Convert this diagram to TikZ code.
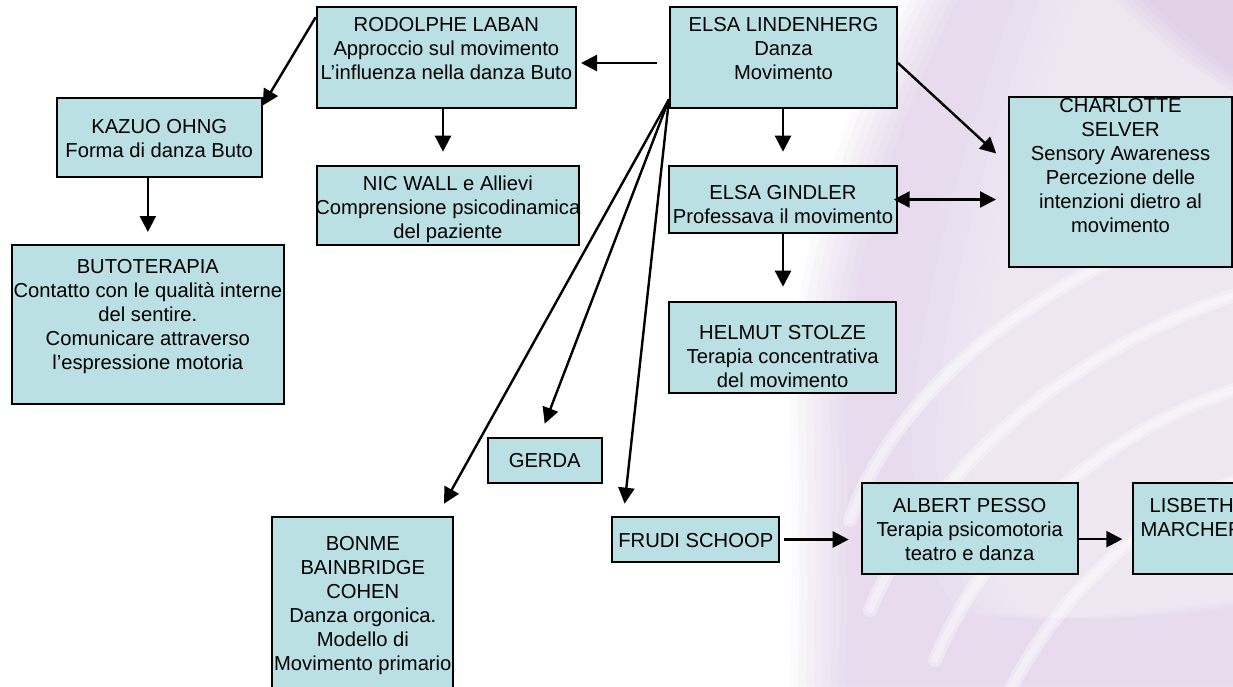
\documentclass[tikz,border=0pt]{standalone}
\usepackage{fontspec}
\setmainfont{Liberation Sans}
\usetikzlibrary{arrows.meta}

\definecolor{cardfill}{RGB}{187,224,227}
\definecolor{lav}{RGB}{196,160,212}

\tikzset{
  cardbox/.style={rectangle, draw=black, line width=2pt, fill=cardfill, inner sep=0pt},
  cardtext/.style={align=center, inner sep=0pt, font=\fontsize{20.2}{24}\selectfont},
  tip/.tip={Triangle[length=16pt,width=16pt]},
  arr/.style={line width=2.4pt, -tip},
  biarr/.style={line width=2.4pt, tip-tip},
  streak/.style={white, line cap=round, opacity=0.35},
}

% box: name, left, top, right, bottom, cap top of first line, text
\newcommand\placecard[7]{%
  \node[cardbox, minimum width={(#4-#2)*1pt}, minimum height={(#5-#3)*1pt}]
    (#1) at ({(#2+#4)/2},{(#3+#5)/2}) {};
  \node[cardtext, anchor=north] (#1t) at (#1.center |- 0,#6) {#7};
}

\begin{document}
\begin{tikzpicture}[x=1pt,y=-1pt]
\useasboundingbox (0,0) rectangle (1233,686);
\clip (0,0) rectangle (1233,686);
\fill[white] (0,0) rectangle (1233,686);

% ---- lavender swirl in the background (soft edges by stacking) ----
\foreach \d in {0,8,...,56}{
  \begin{scope}[xshift=\d pt]
    \fill[lav, opacity=0.05]
      (905,-5) .. controls (840,120) and (785,280) .. (790,420)
      .. controls (793,560) and (790,640) .. (790,700)
      -- (1300,700) -- (1300,-5) -- cycle;
  \end{scope}
}
\foreach \d in {0,12,...,72}{
  \begin{scope}[xshift=\d pt]
    \fill[white, opacity=0.07]
      (1005,-5) .. controls (960,120) and (905,300) .. (900,430)
      .. controls (898,520) and (915,580) .. (950,612)
      .. controls (1050,628) and (1150,610) .. (1300,590)
      -- (1300,-5) -- cycle;
  \end{scope}
}
\foreach \d in {0,8,...,32}{
  \begin{scope}[xshift=\d pt]
    \fill[lav, opacity=0.06]
      (1110,-5) .. controls (1160,40) and (1200,85) .. (1300,120)
      -- (1300,-5) -- cycle;
  \end{scope}
}
\foreach \w in {14,7}{
  \draw[streak, line width=\w pt] (870,610) .. controls (925,480) and (1060,350) .. (1250,290);
  \draw[streak, line width=\w pt] (935,660) .. controls (990,530) and (1110,425) .. (1250,385);
  \draw[streak, line width=\w pt] (1010,690) .. controls (1065,585) and (1150,510) .. (1250,475);
  \draw[streak, line width=\w pt] (850,520) .. controls (895,390) and (1040,270) .. (1250,205);
}

% ---- boxes ----
\placecard{laban}{316.7}{6.7}{576}{108.3}{16.7}
  {RODOLPHE LABAN\\Approccio sul movimento\\L’influenza nella danza Buto}
\placecard{elsaL}{670}{6.7}{897}{108.3}{16.7}
  {ELSA LINDENHERG\\Danza\\Movimento}
\placecard{kazuo}{56.7}{97.5}{261.7}{177}{119.5}
  {KAZUO OHNG\\Forma di danza Buto}
\placecard{nic}{316.7}{165.7}{579}{245}{175.5}
  {NIC WALL e Allievi\\Comprensione psicodinamica\\del paziente}
\placecard{buto}{11.7}{245}{284}{403.5}{259}
  {BUTOTERAPIA\\Contatto con le qualità interne\\del sentire.\\Comunicare attraverso\\l’espressione motoria}
\placecard{gindler}{669.3}{165.7}{896.7}{233.3}{185}
  {ELSA GINDLER\\Professava il movimento}
\placecard{selver}{1009}{97.3}{1232}{267.3}{98.5}
  {CHARLOTTE\\SELVER\\Sensory Awareness\\Percezione delle\\intenzioni dietro al\\movimento}
\placecard{stolze}{669.3}{301.7}{896}{392.7}{325.5}
  {HELMUT STOLZE\\Terapia concentrativa\\del movimento}
\placecard{gerda}{487.7}{437.7}{601.7}{483.3}{453}
  {GERDA}
\placecard{schoop}{612.3}{516.7}{779.3}{562.3}{533}
  {FRUDI SCHOOP}
\placecard{cohen}{272.3}{516.7}{453.3}{720}{536}
  {BONME\\BAINBRIDGE\\COHEN\\Danza orgonica.\\Modello di\\Movimento primario}
\placecard{pesso}{861.7}{483.3}{1077.7}{574}{498}
  {ALBERT PESSO\\Terapia psicomotoria\\teatro e danza}
\placecard{marcher}{1133.3}{483.3}{1250}{574}{498.5}
  {LISBETH\\MARCHER}

% ---- connectors ----
\draw[arr, shorten <=12pt, shorten >=4pt]
  ([yshift=-5.5pt]elsaL.west) -- ([yshift=-5.5pt]laban.east);
\draw[arr] ([yshift=-11.5pt]laban.north west) -- ([yshift=-9pt]kazuo.north east);
\draw[arr, shorten >=13pt] (laban.south -| 443,0) -- (nic.north -| 443,0);
\draw[arr, shorten >=12pt] (kazuo.south -| buto.north) -- (buto.north);
\draw[arr, shorten >=13pt] (elsaL.south -| gindler.north) -- (gindler.north);
\draw[arr, shorten >=14pt] (gindler.south) -- (gindler.south |- stolze.north);
\draw[arr, shorten >=16pt] ([yshift=-5.5pt]elsaL.east) -- ([yshift=18pt]selver.west);
\draw[biarr, shorten <=-4pt, shorten >=12pt] (gindler.east) -- (gindler.east -| selver.west);
\draw[arr, shorten >=13.7pt] ([yshift=10pt]elsaL.south west) -- ([xshift=-17pt]cohen.north east);
\draw[arr, shorten >=13.9pt] ([yshift=10pt]elsaL.south west) -- ([xshift=-5pt]gerda.north);
\draw[arr, shorten >=12.1pt] ([yshift=10pt]elsaL.south west) -- ([xshift=12pt]schoop.north west);
\draw[arr, shorten <=4pt, shorten >=12pt] (schoop.east) -- (schoop.east -| pesso.west);
\draw[arr, shorten >=10pt] ([yshift=-10.5pt]pesso.east) -- ([yshift=-10.5pt]marcher.west);
\end{tikzpicture}
\end{document}
